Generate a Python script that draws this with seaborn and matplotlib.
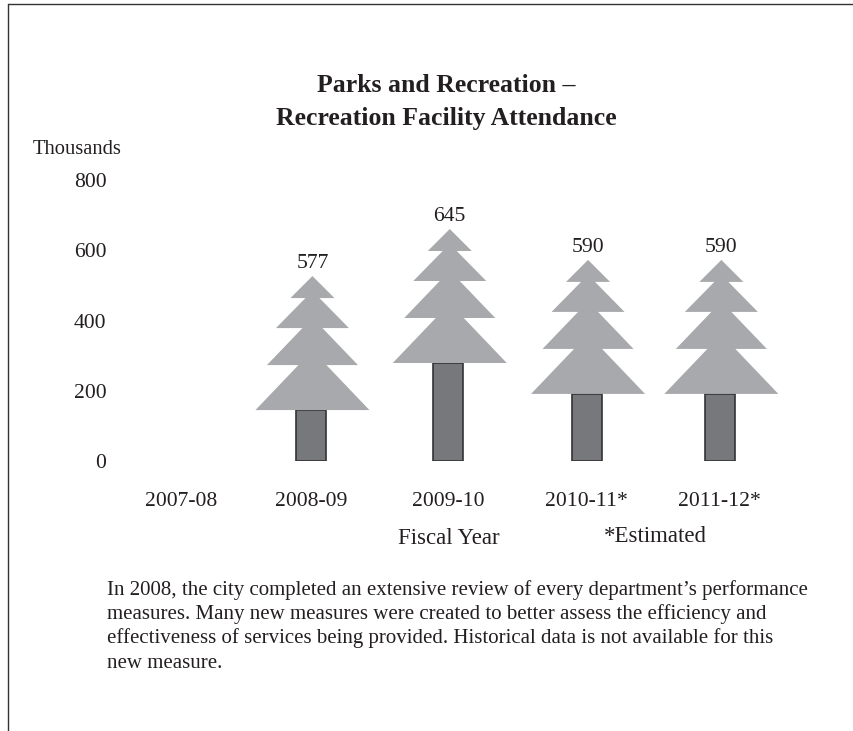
import numpy as np
import pandas as pd
import seaborn as sns
import matplotlib.pyplot as plt
from matplotlib.lines import Line2D
from matplotlib.transforms import ScaledTranslation

years = ['2007-08', '2008-09', '2009-10', '2010-11*', '2011-12*']
attendance = [np.nan, 577, 645, 590, 590]
# trunk height as drawn in the picture (thousands on the y scale)
trunk = [np.nan, 145, 279, 191, 191]
yticks = [0, 200, 400, 600, 800]

title = 'Parks and Recreation \u2013\nRecreation Facility Attendance'
note = ['In 2008, the city completed an extensive review of every department\u2019s performance',
        'measures. Many new measures were created to better assess the efficiency and',
        'effectiveness of services being provided. Historical data is not available for this',
        'new measure.']

# tree outline, pixels from the tip: half width and drop
tree_w = [0, 22, 7, 36.5, 10, 45.5, 14, 57]
tree_d = [0, 22, 22, 52, 52, 89, 89, 134]
# columns are not evenly spaced in the original, nudge in pixels
nudge = [6, 0, 1, 3, 0]

W, H = 854, 731
sns.set_theme(style='white')
plt.rcParams['font.family'] = ['Liberation Serif', 'DejaVu Serif']
txt = '#231f20'

fig = plt.figure(figsize=(W / 100, H / 100), dpi=100)
left, right = 106.5, 788
bottom, top = 461, 180
ax = fig.add_axes([left / W, 1 - bottom / H, (right - left) / W, (bottom - top) / H])

df = pd.DataFrame({'year': years, 'trunk': trunk})
sns.barplot(data=df, x='year', y='trunk', ax=ax, color='#77787b', saturation=1,
            width=0.22, edgecolor='#333333', linewidth=1.2)
ax.set_xlim(-0.5, 4.5)
ax.set_ylim(0, 800)

# pixel to data scale
sx = 5 / (right - left)
sy = 800 / (bottom - top)
tree_h = tree_d[-1] * sy

for p in ax.patches:
    i = int(round(p.get_x() + p.get_width() / 2))
    p.set_x(p.get_x() + nudge[i] * sx)

for i, (t, v) in enumerate(zip(trunk, attendance)):
    if np.isnan(t):
        continue
    w = np.array(tree_w) * sx
    d = np.array(tree_d) * sy
    cx = i + (nudge[i] + 1.5) * sx
    xs = np.r_[cx - w[::-1], cx + w[1:]]
    ys = np.r_[t + tree_h - d[::-1], t + tree_h - d[1:]]
    ax.fill(xs, ys, color='#a7a9ac', lw=0, zorder=3)
    ax.annotate(str(v), (cx, t + tree_h), xytext=(0, 2), textcoords='offset points',
                ha='center', va='bottom', fontsize=15.6, color=txt)

ax.set_yticks(yticks)
ax.set_xlabel('')
ax.set_ylabel('')
ax.tick_params(axis='both', length=0, labelsize=15.6, labelcolor=txt)
ax.tick_params(axis='x', pad=22.5)
ax.tick_params(axis='y', pad=0)
for lab, n in zip(ax.get_xticklabels(), nudge):
    lab.set_transform(lab.get_transform() + ScaledTranslation(n / 100, 0, fig.dpi_scale_trans))
sns.despine(ax=ax, left=True, bottom=True)


def put(x, y, s, **kw):
    fig.text(x / W, 1 - y / H, s, color=txt, va='center', **kw)


put(446, 102, title, ha='center', fontsize=18.5, fontweight='bold', linespacing=1.5)
put(33, 150, 'Thousands', ha='left', fontsize=14.8)
put(449, 539, 'Fiscal Year', ha='center', fontsize=16.5)
put(655, 536, '*Estimated', ha='center', fontsize=16.5)
for line, y in zip(note, [590, 614, 638, 663]):
    put(107, y, line, ha='left', fontsize=15)

# page frame, only top and left show
fig.add_artist(Line2D([8 / W, 8 / W], [0, 1 - 4 / H], color='#333333', lw=1))
fig.add_artist(Line2D([8 / W, 1], [1 - 4 / H, 1 - 4 / H], color='#333333', lw=1))

fig.savefig('out.png', dpi=100)
